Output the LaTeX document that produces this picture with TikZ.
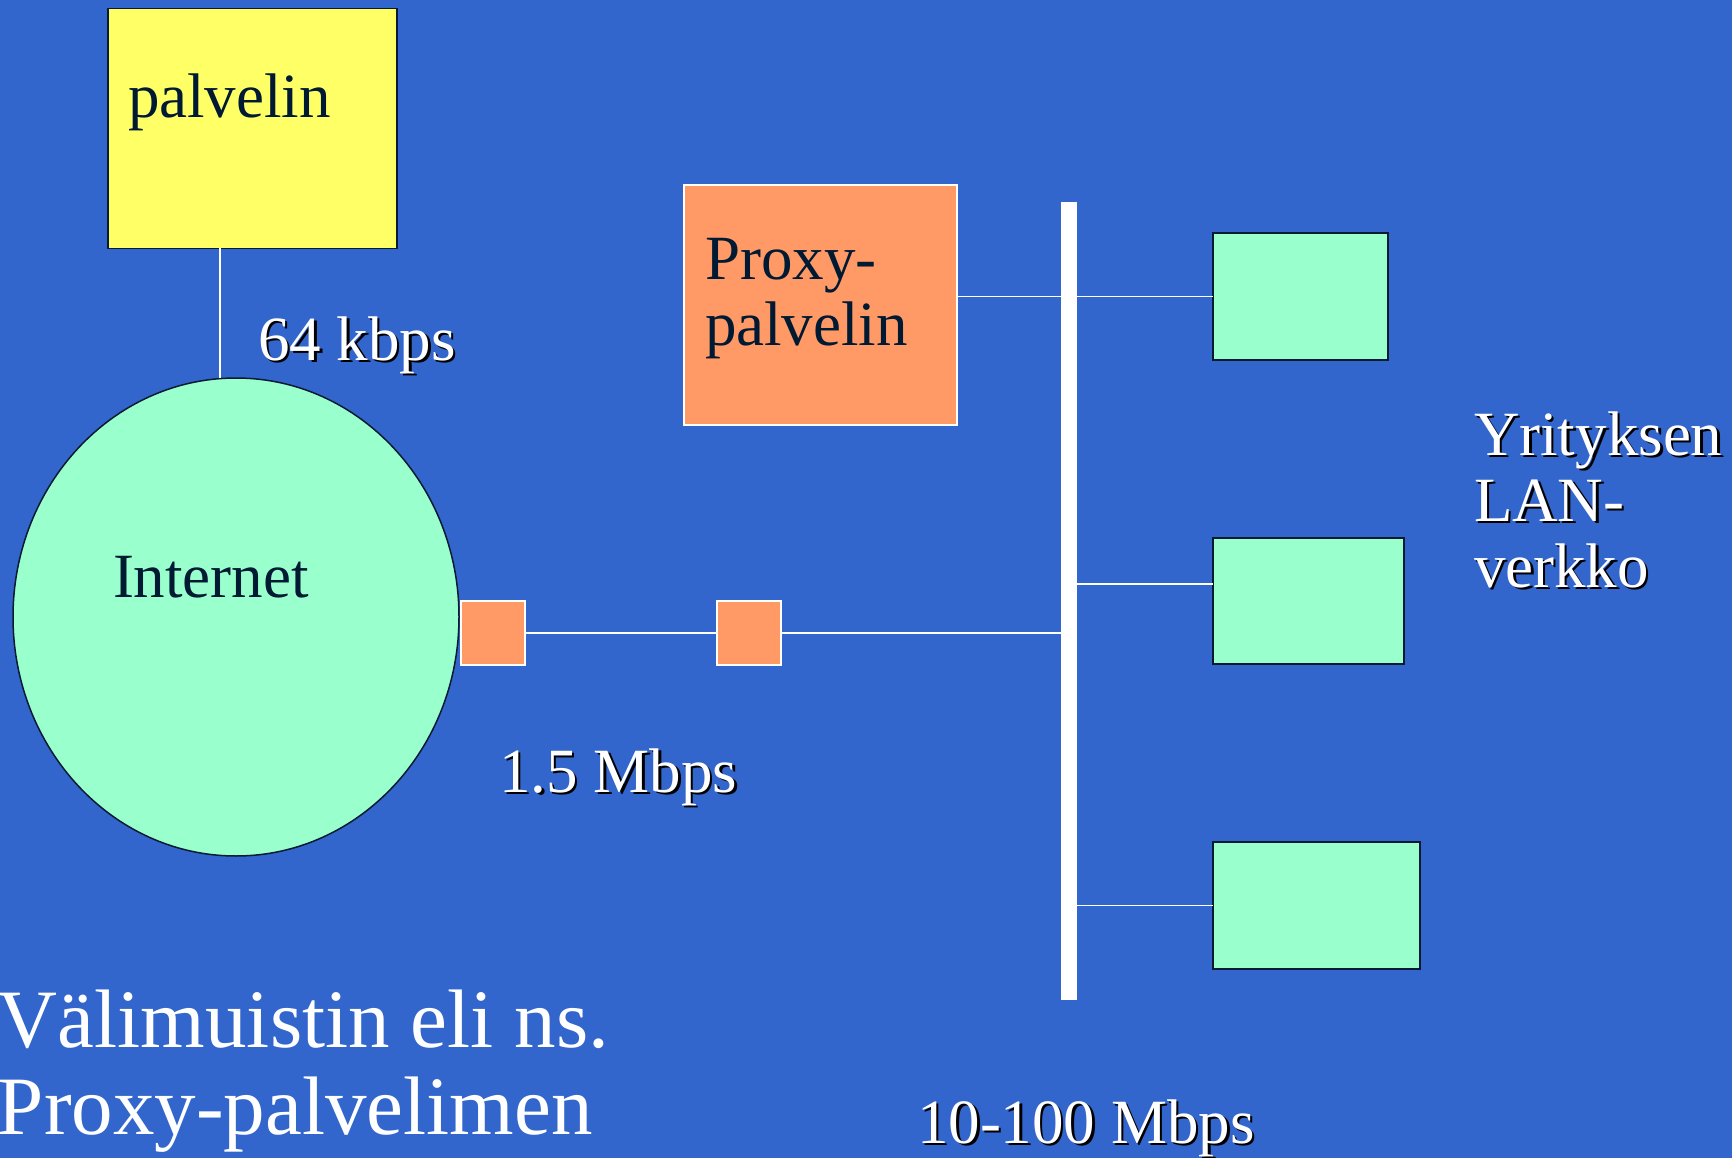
\documentclass[tikz,border=0pt]{standalone}
\usepackage{fontspec}
\setmainfont{Liberation Serif}
\usetikzlibrary{shapes.geometric}
\definecolor{slidebg}{HTML}{3366CC}
\definecolor{srvyellow}{HTML}{FFFF66}
\definecolor{netgreen}{HTML}{99FFCC}
\definecolor{proxyorange}{HTML}{FF9966}
\definecolor{inktext}{HTML}{001A33}
\definecolor{edgedark}{HTML}{0A1A33}

% white label with a dark drop shadow
\newcommand\shadowlabel[4]{%
  \node[lbl, text=black] (#1-sh) at (#2+2.5,#3+2.5) {#4};
  \node[lbl, text=white] (#1) at (#2,#3) {#4};}

\begin{document}
\begin{tikzpicture}[x=1pt,y=-1pt,
  lbl/.style={anchor=base west, inner sep=0pt, outer sep=0pt,
              font=\fontsize{63}{66}\selectfont},
  biglbl/.style={anchor=base west, inner sep=0pt, outer sep=0pt, text=white,
              font=\fontsize{83}{87}\selectfont},
  darkbox/.style={draw=edgedark, line width=1.5pt, rectangle,
              inner sep=0pt, outer sep=0pt},
  whitebox/.style={draw=white, line width=1.5pt, rectangle, fill=proxyorange,
              inner sep=0pt, outer sep=0pt},
  wire/.style={draw=white, line width=1.5pt}]

\fill[slidebg] (0,0) rectangle (1732,1158);
\useasboundingbox (0,0) rectangle (1732,1158);

% server and Internet cloud
\node[darkbox, fill=srvyellow, minimum width=289pt, minimum height=240pt]
  (srv) at (252.5,128.5) {};
\node[ellipse, draw=edgedark, line width=1.5pt, fill=netgreen,
  inner sep=0pt, outer sep=0pt, minimum width=446pt, minimum height=478pt]
  (inet) at (236,617) {};

% proxy server
\node[whitebox, minimum width=273pt, minimum height=240pt]
  (proxy) at (820.5,305) {};

% routers on the 1.5 Mbps link
\node[whitebox, minimum width=64pt, minimum height=64pt] (rt1) at (493,633) {};
\node[whitebox, minimum width=64pt, minimum height=64pt] (rt2) at (749,633) {};

% LAN workstations
\node[darkbox, fill=netgreen, minimum width=175pt, minimum height=127pt]
  (pc1) at (1300.5,296.5) {};
\node[darkbox, fill=netgreen, minimum width=191pt, minimum height=126pt]
  (pc2) at (1308.5,601) {};
\node[darkbox, fill=netgreen, minimum width=207pt, minimum height=127pt]
  (pc3) at (1316.5,905.5) {};

% tap points
\coordinate (tap64) at (220,0);
\coordinate (tap2) at (0,584);

% LAN bus outline (filled after the wires so it covers them)
\node[rectangle, inner sep=0pt, outer sep=0pt,
  minimum width=16pt, minimum height=798pt] (bus) at (1069,601) {};

% connectors
\draw[wire] (srv.south -| tap64) -- (inet.north -| tap64);
\draw[wire] (rt1.east) -- (rt2.west);
\draw[wire] (rt2.east) -- (bus.west |- rt2.east);
\draw[wire] (proxy.east |- pc1.west) -- (pc1.west);
\draw[wire] (bus.east |- tap2) -- (pc2.west |- tap2);
\draw[wire] (bus.east |- pc3.west) -- (pc3.west);
\fill[white] (bus.south west) rectangle (bus.north east);

% texts inside shapes
\node[lbl, text=inktext] (srvtext) at (128,118) {palvelin};
\node[lbl, text=inktext] (inettext) at (113,597) {Internet};
\node[lbl, text=inktext] (proxytext1) at (705,280) {Proxy-};
\node[lbl, text=inktext] (proxytext2) at (705,345) {palvelin};

% link speeds and LAN label
\shadowlabel{s64}{258}{360}{64 kbps}
\shadowlabel{s15}{499}{792}{1.5 Mbps}
\shadowlabel{s10}{917}{1143}{10-100 Mbps}
\shadowlabel{lan1}{1474}{455}{Yrityksen}
\shadowlabel{lan2}{1474}{521}{LAN-}
\shadowlabel{lan3}{1474}{587}{verkko}

% caption
\node[biglbl] (cap1) at (-2,1047) {Välimuistin eli ns.};
\node[biglbl] (cap2) at (-2,1134) {Proxy-palvelimen};
\end{tikzpicture}
\end{document}
